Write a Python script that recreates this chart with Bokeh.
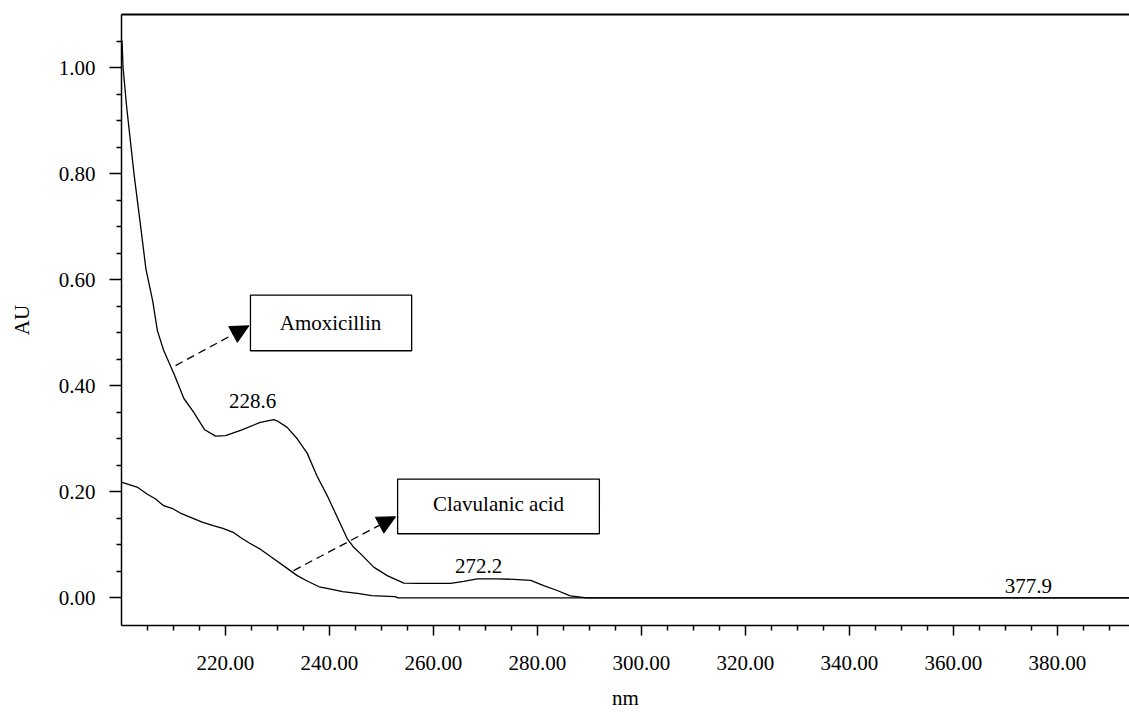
from bokeh.plotting import figure
from bokeh.models import (Range1d, FixedTicker, PrintfTickFormatter, LinearAxis,
                          Label, BoxAnnotation, Arrow, NormalHead)
from bokeh.embed import file_html
from bokeh.resources import INLINE

# ---- data ----
amox_nm = [200.1, 200.3, 201.0, 202.4, 203.7, 204.7, 206.0, 206.9, 208.1, 210.2,
           212.0, 213.9, 216.0, 218.1, 220.0, 222.9, 226.7, 229.3, 229.9, 231.8,
           233.8, 235.7, 237.6, 239.6, 241.5, 243.4, 244.7, 246.0, 248.5, 251.1,
           254.3, 256.9, 263.3, 265.8, 268.4, 272.2, 275.4, 278.7, 281.2, 283.8,
           286.3, 289.5, 300.0, 394.0]
amox_au = [1.051, 1.000, 0.925, 0.800, 0.699, 0.620, 0.560, 0.504, 0.467, 0.420,
           0.376, 0.350, 0.317, 0.305, 0.306, 0.316, 0.331, 0.336, 0.334, 0.322,
           0.300, 0.273, 0.230, 0.192, 0.152, 0.112, 0.095, 0.083, 0.058, 0.042,
           0.028, 0.0275, 0.0275, 0.031, 0.036, 0.036, 0.035, 0.033, 0.023, 0.014,
           0.004, 0.0, 0.0, 0.0]

clav_nm = [200.1, 203.0, 204.9, 206.5, 208.1, 209.7, 211.3, 213.3, 215.5, 217.8,
           219.5, 221.6, 222.9, 224.5, 226.5, 228.8, 231.4, 233.8, 235.9, 238.0,
           240.0, 242.5, 245.4, 248.1, 252.6, 253.2, 394.0]
clav_au = [0.218, 0.209, 0.196, 0.187, 0.174, 0.169, 0.160, 0.152, 0.143, 0.136,
           0.131, 0.123, 0.114, 0.104, 0.093, 0.077, 0.059, 0.042, 0.031, 0.021,
           0.017, 0.012, 0.0085, 0.0043, 0.0025, 0.0, 0.0]

x_major = [220, 240, 260, 280, 300, 320, 340, 360, 380]
x_minor = [205, 210, 215, 225, 230, 235, 245, 250, 255, 265, 270, 275, 285, 290, 295,
           305, 310, 315, 325, 330, 335, 345, 350, 355, 365, 370, 375, 385, 390]
y_major = [0.0, 0.2, 0.4, 0.6, 0.8, 1.0]
y_minor = [0.05, 0.10, 0.15, 0.25, 0.30, 0.35, 0.45, 0.50, 0.55, 0.65, 0.70, 0.75,
           0.85, 0.90, 0.95, 1.05]

peak_labels = ["228.6", "272.2", "377.9"]
peak_x = [225.2, 268.7, 374.4]
peak_y = [0.372, 0.061, 0.0226]

FONT = "Liberation Serif"
FS = "21px"

p = figure(width=1129, height=715, output_backend="svg", toolbar_location=None,
           x_range=Range1d(200, 393.85), y_range=Range1d(-0.052, 1.100),
           min_border_left=121, min_border_right=0, min_border_top=14,
           min_border_bottom=90)
p.outline_line_color = None
p.xgrid.visible = False
p.ygrid.visible = False
p.background_fill_color = "white"

p.line(amox_nm, amox_au, line_color="black", line_width=1.3)
p.line(clav_nm, clav_au, line_color="black", line_width=1.3)

for ax in (p.xaxis[0], p.yaxis[0]):
    ax.axis_line_color = "black"
    ax.axis_line_width = 1.5
    ax.major_tick_line_color = "black"
    ax.major_tick_line_width = 1.5
    ax.minor_tick_line_color = "black"
    ax.minor_tick_line_width = 1.5
    ax.major_tick_in = 0
    ax.minor_tick_in = 0
    ax.major_label_text_font = FONT
    ax.major_label_text_font_size = FS
    ax.major_label_text_color = "black"
    ax.axis_label_text_font = FONT
    ax.axis_label_text_font_size = FS
    ax.axis_label_text_font_style = "normal"
    ax.axis_label_text_color = "black"
    ax.formatter = PrintfTickFormatter(format="%.2f")

xa = p.xaxis[0]
xa.ticker = FixedTicker(ticks=x_major, minor_ticks=x_minor)
xa.major_tick_out = 10
xa.minor_tick_out = 5
xa.major_label_standoff = 20
xa.axis_label = "nm"
xa.axis_label_standoff = 13

ya = p.yaxis[0]
ya.ticker = FixedTicker(ticks=y_major, minor_ticks=y_minor)
ya.major_tick_out = 12
ya.minor_tick_out = 5
ya.major_label_standoff = 14
ya.axis_label = "AU"
ya.axis_label_standoff = 22

top = LinearAxis(ticker=FixedTicker(ticks=[]), major_tick_out=0, minor_tick_out=0,
                 major_label_standoff=0, major_label_text_font_size="0px",
                 axis_line_width=2, axis_line_color="black")
p.add_layout(top, "above")

# peak labels
for t, xx, yy in zip(peak_labels, peak_x, peak_y):
    p.add_layout(Label(x=xx, y=yy, text=t, text_font=FONT, text_font_size=FS,
                       text_align="center", text_baseline="middle",
                       text_color="black"))

# callout boxes
p.add_layout(BoxAnnotation(left=224.8, right=255.8, bottom=0.466, top=0.571,
                           fill_color="white", fill_alpha=1.0, line_color="black",
                           line_width=1.3, line_alpha=1.0))
p.add_layout(Label(x=240.2, y=0.519, text="Amoxicillin", text_font=FONT,
                   text_font_size=FS, text_align="center",
                   text_baseline="middle", text_color="black"))
p.add_layout(BoxAnnotation(left=253.1, right=291.9, bottom=0.121, top=0.224,
                           fill_color="white", fill_alpha=1.0, line_color="black",
                           line_width=1.3, line_alpha=1.0))
p.add_layout(Label(x=272.5, y=0.177, text="Clavulanic acid", text_font=FONT,
                   text_font_size=FS, text_align="center",
                   text_baseline="middle", text_color="black"))

# dashed arrows
p.add_layout(Arrow(end=NormalHead(size=18, fill_color="black", line_color="black"),
                   x_start=210.4, y_start=0.438, x_end=224.5, y_end=0.513,
                   line_dash="8 5", line_width=1.3, line_color="black"))
p.add_layout(Arrow(end=NormalHead(size=18, fill_color="black", line_color="black"),
                   x_start=233.1, y_start=0.0515, x_end=252.7, y_end=0.153,
                   line_dash="8 5", line_width=1.3, line_color="black"))

open("out.html", "w").write(file_html(p, INLINE))
